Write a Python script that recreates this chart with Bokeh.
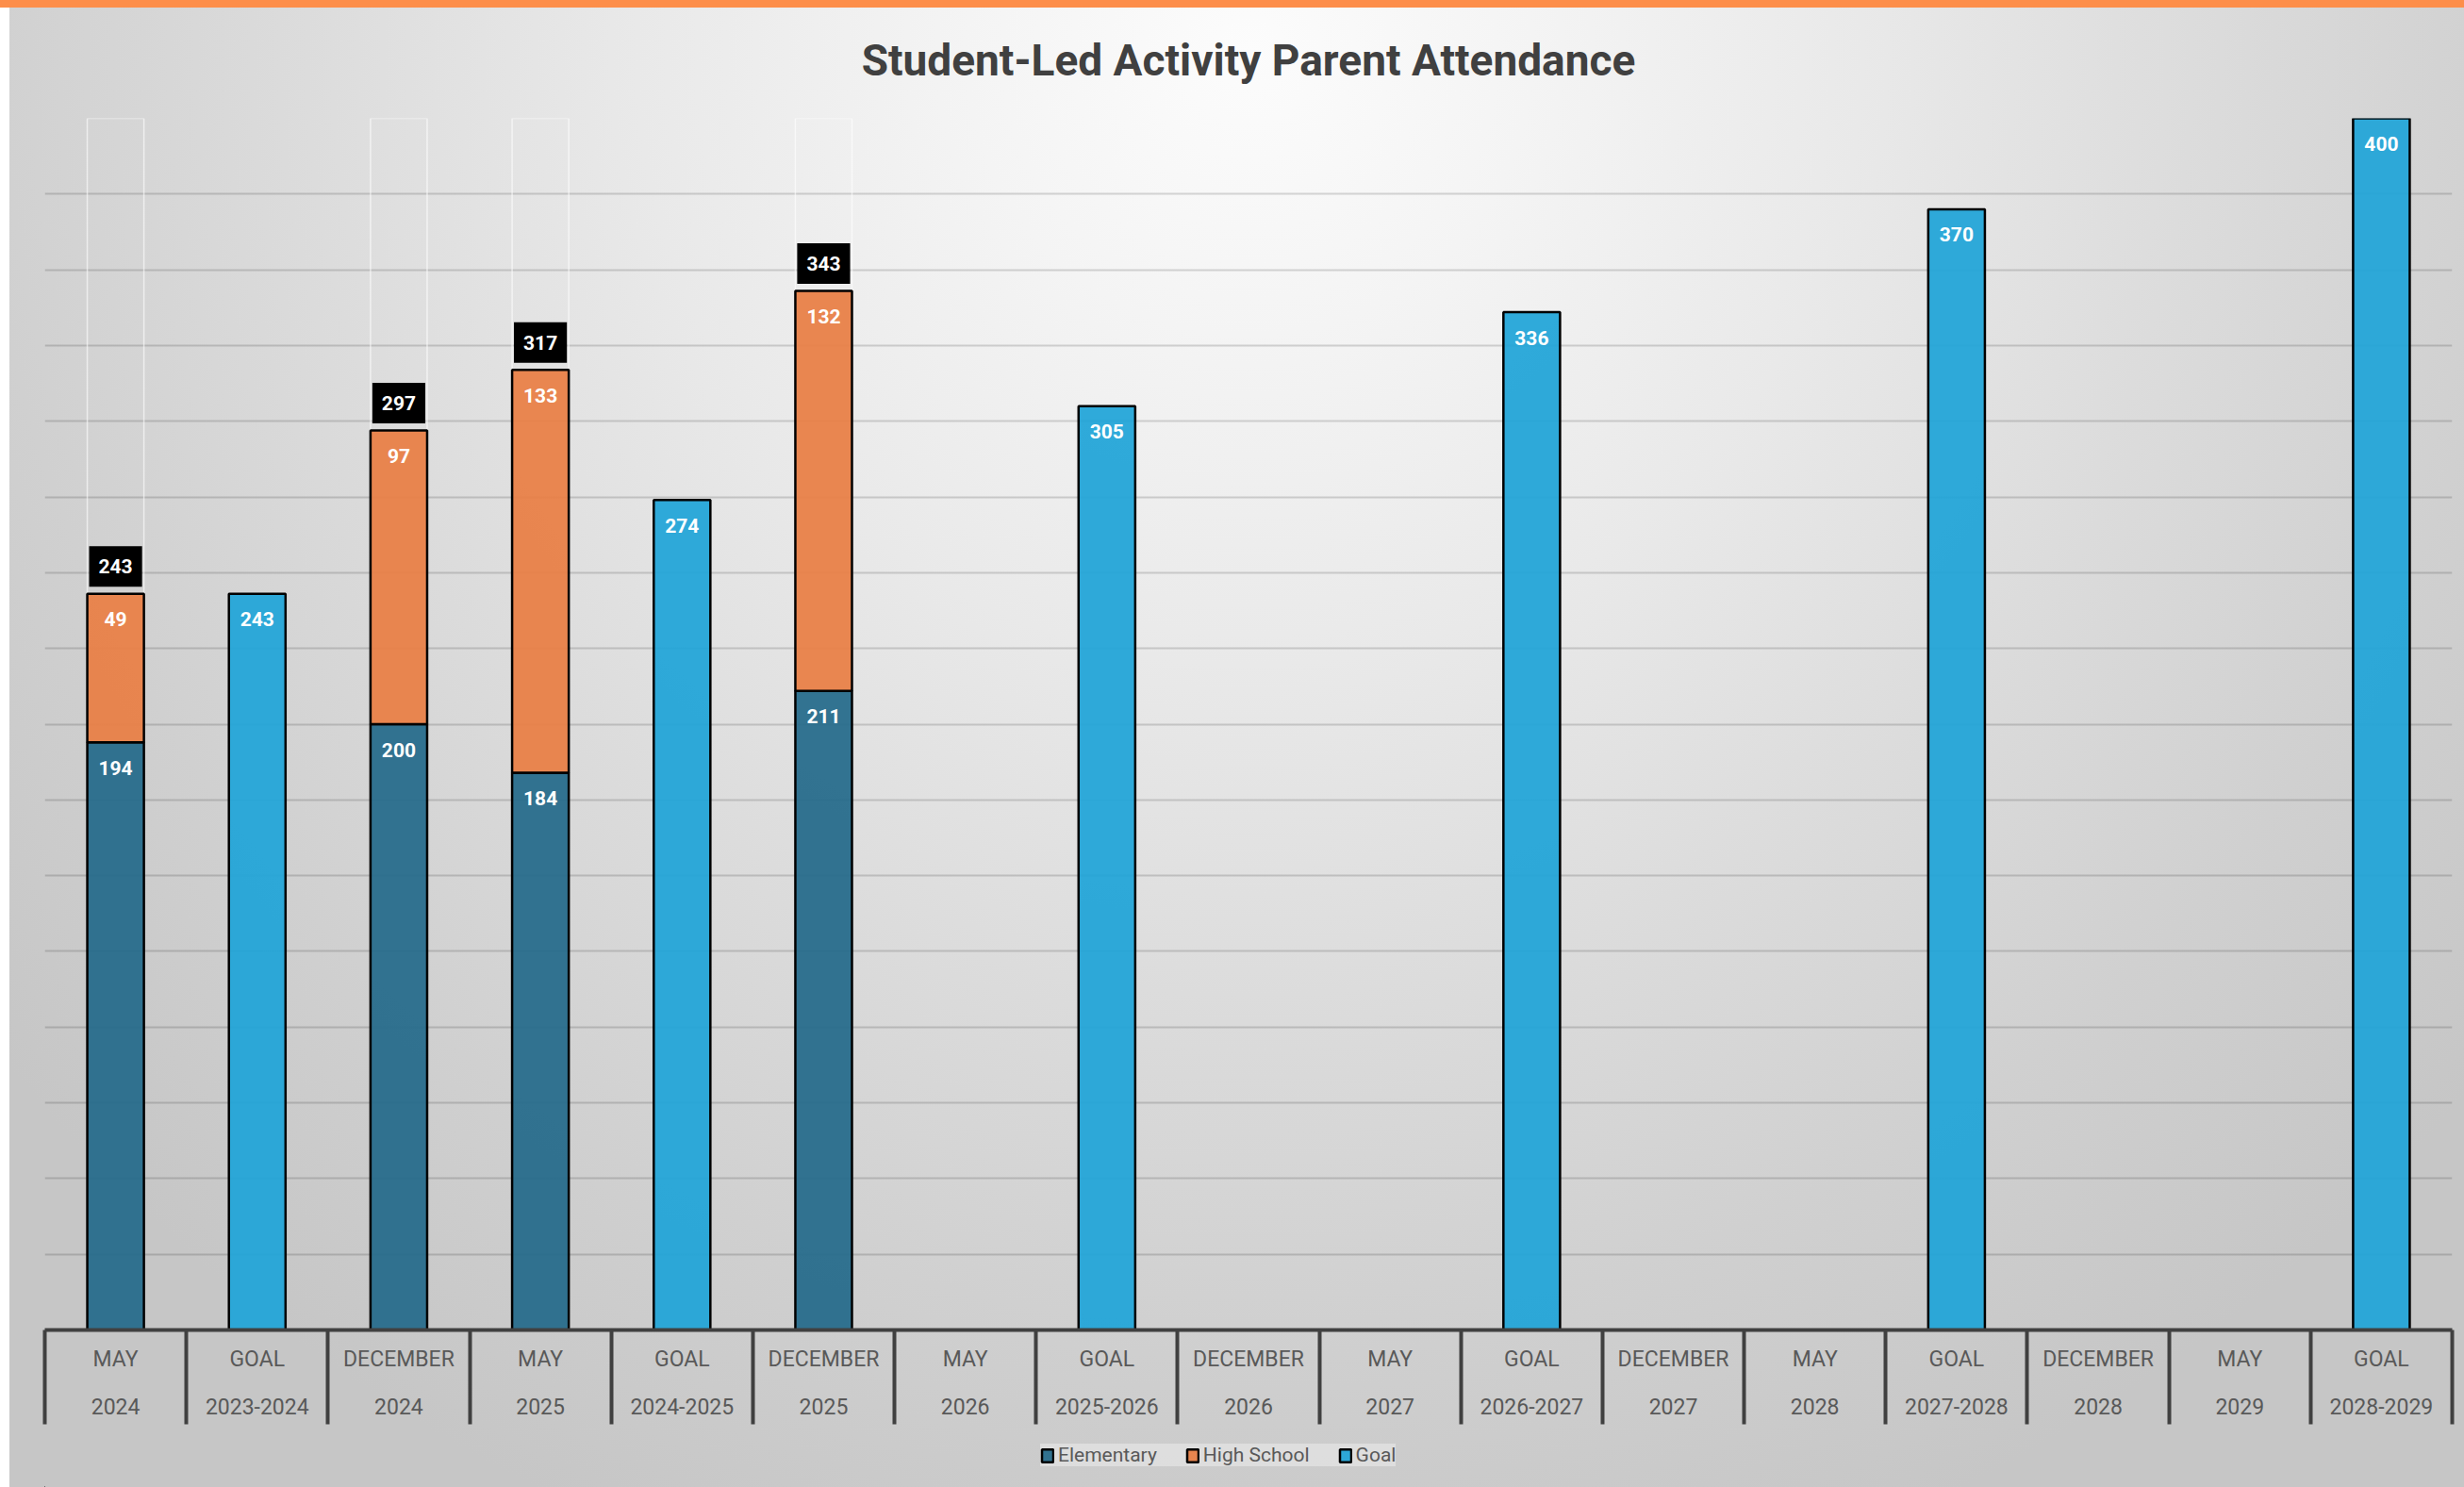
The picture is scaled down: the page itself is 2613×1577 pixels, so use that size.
import numpy as np
from bokeh.plotting import figure
from bokeh.layouts import column
from bokeh.models import (FixedTicker, LinearAxis, Range1d, Legend, LegendItem,
                          ColumnDataSource, SingleIntervalTicker)
from bokeh.core.properties import value
from bokeh.embed import file_html
from bokeh.resources import INLINE

# ---------------- data ----------------
months = ["MAY", "GOAL", "DECEMBER", "MAY", "GOAL", "DECEMBER", "MAY", "GOAL", "DECEMBER",
          "MAY", "GOAL", "DECEMBER", "MAY", "GOAL", "DECEMBER", "MAY", "GOAL"]
years = ["2024", "2023-2024", "2024", "2025", "2024-2025", "2025", "2026", "2025-2026", "2026",
         "2027", "2026-2027", "2027", "2028", "2027-2028", "2028", "2029", "2028-2029"]
elementary = [194, 0, 200, 184, 0, 211, 0, 0, 0, 0, 0, 0, 0, 0, 0, 0, 0]
high_school = [49, 0, 97, 133, 0, 132, 0, 0, 0, 0, 0, 0, 0, 0, 0, 0, 0]
goal = [0, 243, 0, 0, 274, 0, 0, 305, 0, 0, 336, 0, 0, 370, 0, 0, 400]
series_names = ["Elementary", "High School", "Goal"]
title = "Student-Led Activity Parent Attendance"
y_max = 400
grid_step = 25

# ---------------- derived ----------------
n = len(months)
xs = np.arange(n)
el = np.array(elementary, dtype=float)
hs = np.array(high_school, dtype=float)
gl = np.array(goal, dtype=float)
tot = el + hs

m_act = tot > 0
m_goal = gl > 0

act = ColumnDataSource(dict(
    x=xs[m_act], el=el[m_act], hs=hs[m_act], tot=tot[m_act],
    el_top=el[m_act] + hs[m_act],
    el_lbl=[f"{int(v)}" for v in el[m_act]],
    hs_lbl=[f"{int(v)}" for v in hs[m_act]],
    tot_lbl=[f"{int(v)}" for v in tot[m_act]],
    ghost_top=np.minimum(2 * tot[m_act], y_max),
    zero=np.zeros(m_act.sum()),
))
gsrc = ColumnDataSource(dict(
    x=xs[m_goal], g=gl[m_goal], zero=np.zeros(m_goal.sum()),
    g_lbl=[f"{int(v)}" for v in gl[m_goal]],
))

C_EL = "#266B8B"
C_HS = "#E97F46"
C_GL = "#22A5D8"
FONT = "Roboto"
BAR_W = 0.4
W = 2613
H_MAIN = 1515
H_LEG = 62
STOPS = "#fcfcfc 0px, #f4f4f4 300px, #e9e9e9 650px, #dcdcdc 1000px, #d0d0d0 1350px, #c6c6c6 1700px"
CX, CY = 1325, 55

p = figure(width=W, height=H_MAIN, x_range=Range1d(-0.5, n - 0.5), y_range=Range1d(0, y_max),
           output_backend="svg", toolbar_location=None, x_axis_location=None, y_axis_location=None,
           min_border_left=47, min_border_right=13, min_border_top=124, min_border_bottom=105,
           title=title)

p.border_fill_color = None
p.background_fill_color = None
p.outline_line_color = None
p.styles = {"background": (
    "linear-gradient(#FD8E4A, #FD8E4A) top left / 100% 8px no-repeat, "
    "linear-gradient(#FFFFFF, #FFFFFF) top left / 10px 100% no-repeat, "
    f"radial-gradient(circle at {CX}px {CY}px, {STOPS})")}

p.title.align = "center"
p.title.text_font = FONT
p.title.text_font_style = "bold"
p.title.text_font_size = "46px"
p.title.text_color = "#404040"
p.title.standoff = 69

# grids: no vertical grid, horizontal every 25
p.xgrid.visible = False
p.ygrid.ticker = SingleIntervalTicker(interval=grid_step)
p.ygrid.grid_line_color = "#000000"
p.ygrid.grid_line_alpha = 0.15
p.ygrid.grid_line_width = 2

# ghost "total" series outline (white)
p.vbar(x="x", bottom="tot", top="ghost_top", width=BAR_W, source=act,
       fill_color=None, line_color="white", line_alpha=0.6, line_width=1.5)

bar_kw = dict(width=BAR_W, fill_alpha=0.94, line_color="black", line_width=2.5)
p.vbar(x="x", bottom="zero", top="el", source=act, fill_color=C_EL, **bar_kw)
p.vbar(x="x", bottom="el", top="el_top", source=act, fill_color=C_HS, **bar_kw)
p.vbar(x="x", bottom="zero", top="g", source=gsrc, fill_color=C_GL, **bar_kw)

lbl_kw = dict(text_color="white", text_font=value(FONT), text_font_style="bold",
              text_font_size="21px", text_align="center", text_baseline="middle")
p.text(x="x", y="el", text="el_lbl", source=act, y_offset=27, **lbl_kw)
p.text(x="x", y="el_top", text="hs_lbl", source=act, y_offset=27, **lbl_kw)
p.text(x="x", y="g", text="g_lbl", source=gsrc, y_offset=27, **lbl_kw)
p.text(x="x", y="tot", text="tot_lbl", source=act, y_offset=-29,
       background_fill_color="black", padding=dict(left=10, right=10, top=14, bottom=14),
       **lbl_kw)

# x axis (months) with category separators
ticker = FixedTicker(ticks=list(xs), minor_ticks=[i - 0.5 for i in range(n + 1)])
ax = LinearAxis(ticker=ticker)
ax.major_label_overrides = {int(i): months[i] for i in range(n)}
ax.axis_line_color = "#404040"
ax.axis_line_width = 4
ax.major_tick_out = 0
ax.major_tick_in = 0
ax.minor_tick_in = 0
ax.minor_tick_out = 100
ax.minor_tick_line_color = "#404040"
ax.minor_tick_line_width = 4
ax.major_label_text_font = FONT
ax.major_label_text_font_size = "23px"
ax.major_label_text_color = "#595959"
ax.major_label_standoff = -83
p.add_layout(ax, "below")

# second row of axis labels (years)
ax2 = LinearAxis(ticker=FixedTicker(ticks=list(xs)))
ax2.major_label_overrides = {int(i): years[i] for i in range(n)}
ax2.axis_line_color = None
ax2.major_tick_line_color = None
ax2.minor_tick_line_color = None
ax2.major_tick_out = 0
ax2.major_tick_in = 0
ax2.major_label_text_font = FONT
ax2.major_label_text_font_size = "23px"
ax2.major_label_text_color = "#595959"
ax2.major_label_standoff = 25
p.add_layout(ax2, "below")

# ---------------- legend strip (continues the background) ----------------
q = figure(width=W, height=H_LEG, x_range=Range1d(0, 1), y_range=Range1d(0, 1),
           output_backend="svg", toolbar_location=None, x_axis_location=None, y_axis_location=None,
           min_border=0)
q.xgrid.visible = False
q.ygrid.visible = False
q.border_fill_color = None
q.background_fill_color = None
q.outline_line_color = None
q.styles = {"background": (
    "linear-gradient(#FFFFFF, #FFFFFF) top left / 10px 100% no-repeat, "
    f"radial-gradient(circle at {CX}px {CY - H_MAIN}px, {STOPS})")}

# legend-only renderers (their single row lies outside the visible range)
leg_src = ColumnDataSource(dict(x=[-1.0], top=[0.0]))
leg_r = [q.vbar(x="x", top="top", source=leg_src, fill_color=c, **bar_kw)
         for c in (C_EL, C_HS, C_GL)]
legend = Legend(items=[LegendItem(label=nm, renderers=[r]) for nm, r in zip(series_names, leg_r)],
                orientation="horizontal", location=(1056, 22),
                background_fill_color="white", background_fill_alpha=0.35,
                border_line_color=None, label_text_font=FONT, label_text_font_size="21px",
                label_text_color="#595959", glyph_width=15, glyph_height=17, label_height=24,
                label_standoff=4, spacing=30, padding=11, margin=0)
q.add_layout(legend, "center")

layout = column(p, q, spacing=0)
open("out.html", "w").write(file_html(layout, INLINE))
